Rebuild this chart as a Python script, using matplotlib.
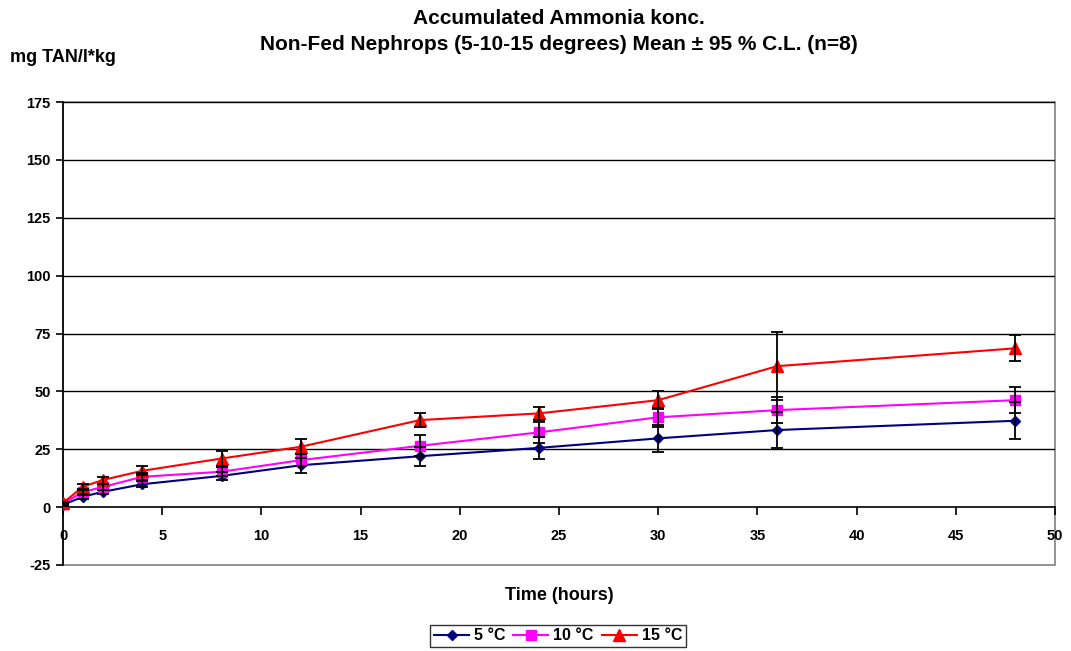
import matplotlib
matplotlib.use("Agg")
import matplotlib.pyplot as plt
from matplotlib.patches import Rectangle

plt.rcParams['font.family'] = ['Liberation Sans', 'DejaVu Sans']
plt.rcParams['font.weight'] = 'bold'
plt.rcParams['axes.unicode_minus'] = False

hours = [0, 1, 2, 4, 8, 12, 18, 24, 30, 36, 48]
t5 = [1.0, 4.5, 6.6, 9.9, 13.5, 18.1, 22.0, 25.6, 29.7, 33.3, 37.3]
t5_err = [0.5, 0.8, 1.0, 1.2, 1.8, 3.3, 4.1, 4.6, 5.8, 7.7, 7.9]
t10 = [1.5, 6.5, 8.7, 13.1, 15.3, 20.3, 26.5, 32.3, 38.8, 41.9, 46.2]
t10_err = [0.5, 1.0, 1.2, 1.5, 2.0, 2.5, 4.6, 4.5, 4.0, 5.5, 5.7]
t15 = [1.8, 8.8, 11.7, 15.7, 21.0, 26.1, 37.6, 40.5, 46.2, 60.9, 68.6]
t15_err = [0.5, 1.0, 1.5, 2.0, 3.3, 3.3, 2.9, 2.8, 3.9, 14.6, 5.6]

labels = ['5 °C', '10 °C', '15 °C']
colors = ['#000080', '#FF00FF', '#FF0000']
markers = ['D', 's', '^']
msizes = [5, 7, 8]
yticks = [-25, 0, 25, 50, 75, 100, 125, 150, 175]
xticks = [0, 5, 10, 15, 20, 25, 30, 35, 40, 45, 50]

fig = plt.figure(figsize=(10.71, 6.51), dpi=100)
ax = fig.add_axes([63/1071, 1-565/651, (1055-63)/1071, (565-102)/651])

for vals, errs, lab, c, m, ms in zip([t5, t10, t15], [t5_err, t10_err, t15_err], labels, colors, markers, msizes):
    ax.errorbar(hours, vals, yerr=errs, fmt='none', ecolor='black', elinewidth=1.3,
                capsize=4, capthick=1.3, zorder=4)
    ax.plot(hours, vals, color=c, marker=m, markersize=ms, linewidth=1.5, label=lab,
            markeredgecolor=c, zorder=3)

ax.set_xlim(0, 50)
ax.set_ylim(-25, 175)
ax.set_yticks(yticks)
ax.set_xticks(xticks)
for y in yticks[2:]:
    ax.axhline(y, color='black', linewidth=1.0, zorder=1)

for s in ['top', 'right']:
    ax.spines[s].set_visible(False)
ax.spines['bottom'].set_position(('data', 0))
ax.spines['bottom'].set_linewidth(1.2)
ax.spines['left'].set_linewidth(1.2)
ax.add_patch(Rectangle((0, 0), 1, 1, transform=ax.transAxes, fill=False,
                       edgecolor='#808080', linewidth=1.2, zorder=0.5, clip_on=False))

ax.tick_params(axis='x', direction='out', length=6, width=1.2, labelsize=10.5, pad=10)
ax.tick_params(axis='y', direction='out', length=5, width=1.2, labelsize=10.5, pad=4)
for lbl in ax.get_xticklabels() + ax.get_yticklabels():
    lbl.set_fontweight('bold')

fig.text(559/1071, 1-18/651, 'Accumulated Ammonia konc.', ha='center', va='center',
         fontsize=15, fontweight='bold')
fig.text(559/1071, 1-45/651, 'Non-Fed Nephrops (5-10-15 degrees) Mean ± 95 % C.L. (n=8)',
         ha='center', va='center', fontsize=15, fontweight='bold')
fig.text(10/1071, 1-58/651, 'mg TAN/l*kg', ha='left', va='center', fontsize=13, fontweight='bold')
fig.text(559/1071, 1-596/651, 'Time (hours)', ha='center', va='center', fontsize=13, fontweight='bold')

leg = fig.legend(loc='center', bbox_to_anchor=(558/1071, 1-636/651), ncol=3, frameon=True,
                 fancybox=False, edgecolor='black', fontsize=11.5, handlelength=2.2,
                 columnspacing=0.5, handletextpad=0.3, borderpad=0.25, borderaxespad=0.2)
leg.get_frame().set_linewidth(1.0)
for txt in leg.get_texts():
    txt.set_fontweight('bold')

fig.savefig('out.png', dpi=100)
